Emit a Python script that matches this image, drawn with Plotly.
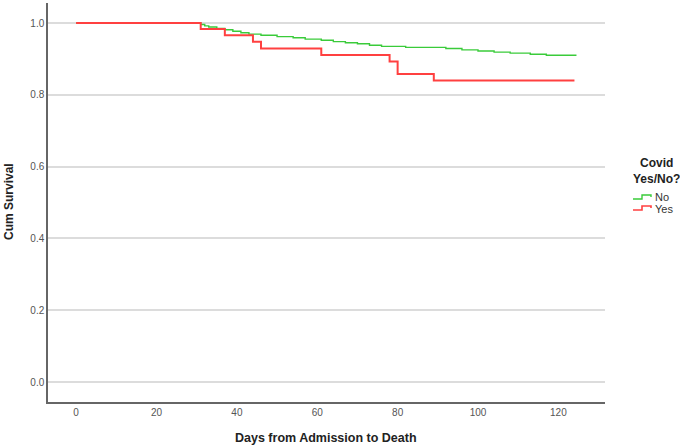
import plotly.graph_objects as go

# Kaplan-Meier step data
no_days = [0, 31, 32, 33, 35, 37, 39, 41, 43, 46, 50, 54, 57, 61, 64, 67, 70, 73, 76, 82, 92, 96, 100, 104, 108, 113, 117, 124.5]
no_surv = [1.0, 0.996, 0.992, 0.989, 0.985, 0.981, 0.977, 0.973, 0.969, 0.966, 0.962, 0.959, 0.955, 0.952, 0.948,
           0.945, 0.942, 0.938, 0.935, 0.932, 0.929, 0.925, 0.922, 0.919, 0.916, 0.913, 0.910, 0.910]
yes_days = [0, 31, 37, 44, 46, 61, 78, 80, 89, 124]
yes_surv = [1.0, 0.983, 0.966, 0.948, 0.929, 0.911, 0.893, 0.858, 0.840, 0.840]

x_ticks = [0, 20, 40, 60, 80, 100, 120]
y_ticks = [0.0, 0.2, 0.4, 0.6, 0.8, 1.0]

GREEN = "#3acb3a"
RED = "#ff4040"

W, H = 680, 448
L, R, T, B = 48, 75, 3, 46
PW, PH = W - L - R, H - T - B


def px(x):
    return (x - L) / PW


def py(y):
    return (H - B - y) / PH


fig = go.Figure()
fig.add_trace(go.Scatter(x=no_days, y=no_surv, mode="lines", name="No", showlegend=False,
                         line=dict(color=GREEN, width=1.4, shape="hv")))
fig.add_trace(go.Scatter(x=yes_days, y=yes_surv, mode="lines", name="Yes", showlegend=False,
                         line=dict(color=RED, width=2, shape="hv")))

annotations = [
    dict(text="<b>Days from Admission to Death</b>", x=px(326), y=py(438), xref="paper", yref="paper",
         xanchor="center", yanchor="middle", showarrow=False, font=dict(size=12.5, color="#222")),
    dict(text="<b>Cum Survival</b>", x=px(9), y=py(202), xref="paper", yref="paper", textangle=-90,
         xanchor="center", yanchor="middle", showarrow=False, font=dict(size=12, color="#222")),
    dict(text="<b>Covid<br>Yes/No?</b>", x=px(656), y=py(170.5), xref="paper", yref="paper",
         xanchor="center", yanchor="middle", align="center", showarrow=False,
         font=dict(size=12, color="#222")),
    dict(text="No", x=px(653), y=py(197), xref="paper", yref="paper",
         xanchor="left", yanchor="middle", showarrow=False, font=dict(size=11, color="#333")),
    dict(text="Yes", x=px(653), y=py(209), xref="paper", yref="paper",
         xanchor="left", yanchor="middle", showarrow=False, font=dict(size=11, color="#333")),
]


def icon(y_low, color, width):
    y_high = y_low - 4
    pts = [(633, y_low), (642, y_low), (642, y_high), (651, y_high), (651, y_low - 2)]
    path = "M " + " L ".join(f"{px(a):.5f},{py(b):.5f}" for a, b in pts)
    return dict(type="path", path=path, xref="paper", yref="paper",
                line=dict(color=color, width=width))


shapes = [icon(199, GREEN, 1.4), icon(210, RED, 1.6)]

fig.update_layout(
    width=W, height=H,
    margin=dict(l=L, r=R, t=T, b=B, autoexpand=False),
    paper_bgcolor="white", plot_bgcolor="white",
    font=dict(family="Liberation Sans, Arial, sans-serif", color="#444", size=10),
    showlegend=False,
    annotations=annotations,
    shapes=shapes,
    xaxis=dict(
        range=[-7, 131.6], tickvals=x_ticks, showgrid=False, zeroline=False,
        showline=True, linecolor="#666", linewidth=1.5, ticks="", automargin=False,
        tickfont=dict(size=10, color="#555"),
    ),
    yaxis=dict(
        range=[-0.0557, 1.0557], tickvals=y_ticks, tickformat=".1f",
        showgrid=True, gridcolor="#dcdcdc", gridwidth=1.5, zeroline=False,
        showline=True, linecolor="#666", linewidth=1.5, ticks="", automargin=False,
        tickfont=dict(size=10, color="#555"),
    ),
)

fig.write_html("out.html", config={"displayModeBar": False},
               post_script="document.body.style.margin='0px';")
